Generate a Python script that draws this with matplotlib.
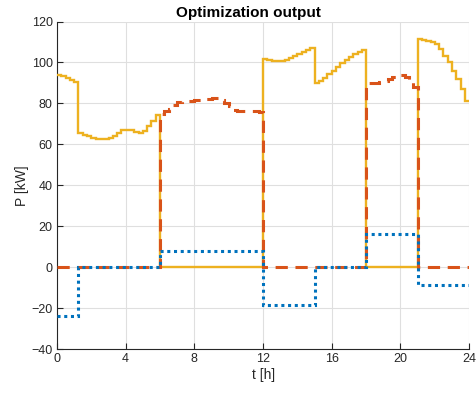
import numpy as np
import matplotlib
matplotlib.use("Agg")
import matplotlib.pyplot as plt

plt.rcParams['font.family'] = ['Liberation Sans', 'DejaVu Sans']

# time grid: 15-minute intervals over 24 h
edges = np.linspace(0, 24, 97)

p_yellow = ([94.0, 93.5, 92.5, 91.5, 90.5]
            + [65.6, 64.7, 64.0, 63.3, 62.7, 62.4, 62.6, 63.3, 64.3, 65.6,
               66.8, 67.2, 66.8, 66.1, 65.6, 66.4, 68.8, 71.6, 74.3]
            + [0.0] * 24
            + [101.7, 101.2, 100.8, 100.7, 100.9, 101.4, 102.2, 103.2, 104.2,
               105.3, 106.3, 107.3]
            + [89.8, 91.0, 92.6, 94.3, 96.0, 97.8, 99.5, 101.2, 102.7, 104.0,
               105.2, 106.2]
            + [0.0] * 12
            + [111.4, 111.1, 110.6, 110.1, 109.0, 106.5, 103.3, 100.3, 96.0,
               91.9, 87.0, 81.3])

p_red = ([0.0] * 24
         + [75.0, 76.5, 77.5, 79.0, 80.5, 81.0, 81.3, 81.4, 81.5, 81.7, 82.0,
            82.3, 82.6, 82.6, 81.5, 80.0, 78.5, 77.0, 76.5, 76.2, 76.2, 76.4,
            76.2, 75.8]
         + [0.0] * 24
         + [89.8, 90.0, 90.2, 90.5, 91.0, 92.0, 93.0, 93.7, 93.8, 93.0, 91.5,
            88.0]
         + [0.0] * 12)

p_blue = ([-24.0] * 5 + [0.0] * 19 + [8.0] * 24 + [-18.7] * 12 + [0.0] * 12
          + [16.3] * 12 + [-8.8] * 12)

xticks = [0, 4, 8, 12, 16, 20, 24]
yticks = [-40, -20, 0, 20, 40, 60, 80, 100, 120]

fig = plt.figure(figsize=(4.76, 3.94), dpi=100)
ax = fig.add_axes([0.1197, 0.1142, 0.8660, 0.8312])

ax.stairs(p_yellow, edges, baseline=None, color='#EDB120', linewidth=1.7, zorder=3)
ax.stairs(p_red, edges, baseline=None, color='#D95319', linewidth=2.2,
          linestyle=(0, (4, 2.5)), zorder=4)
ax.stairs(p_blue, edges, baseline=None, color='#0072BD', linewidth=2.2,
          linestyle=(0, (1, 1.2)), zorder=5)

ax.set_xlim(0, 24)
ax.set_ylim(-40, 120)
ax.set_xticks(xticks)
ax.set_yticks(yticks)
ax.grid(True, color='#dfdfdf', linewidth=0.8)
ax.set_axisbelow(True)
for s in ['top', 'right']:
    ax.spines[s].set_visible(False)
for s in ['left', 'bottom']:
    ax.spines[s].set_color('#262626')
    ax.spines[s].set_linewidth(0.8)
ax.tick_params(direction='in', length=4, width=0.8, colors='#262626',
               labelsize=9, pad=3)

ax.set_xlabel('t [h]', fontsize=10, color='#262626', labelpad=2)
ax.set_ylabel('P [kW]', fontsize=10, color='#262626', labelpad=2)
ax.set_title('Optimization output', fontsize=11, fontweight='bold', pad=3, x=0.465)

fig.savefig('out.png', dpi=100)
